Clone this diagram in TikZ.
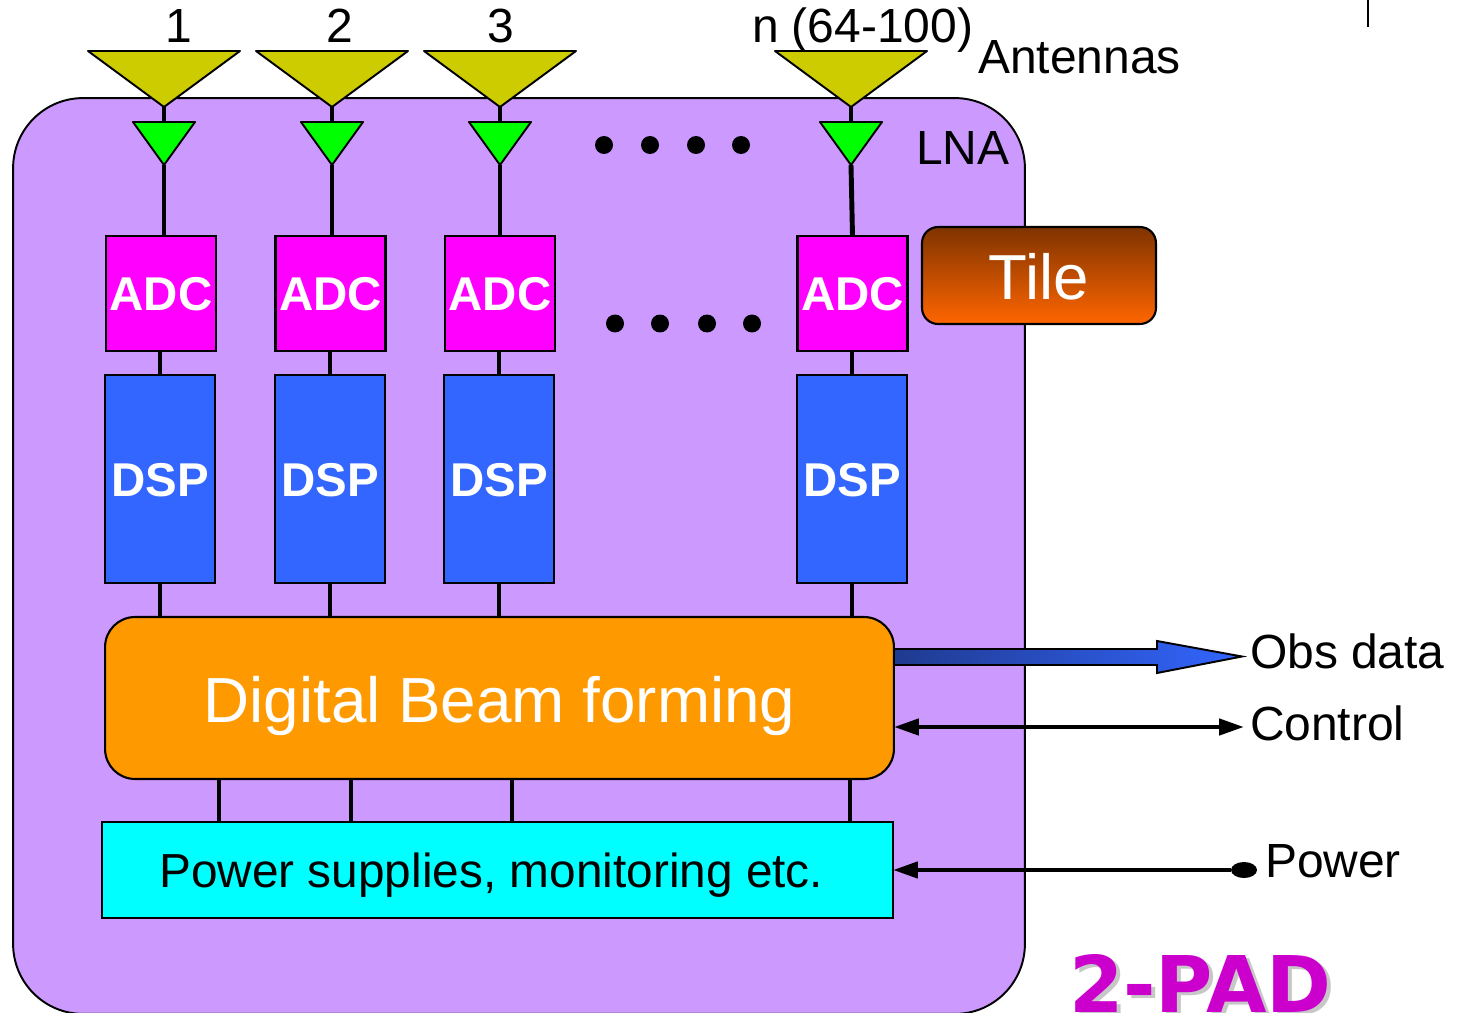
\documentclass[tikz,border=0pt]{standalone}
\usepackage{fontspec}
\setmainfont{Liberation Sans}
\newfontfamily\padfont{DejaVu Sans}
\usetikzlibrary{arrows.meta}
\usetikzlibrary{shapes.geometric}
\definecolor{panelcol}{HTML}{CC99FF}
\definecolor{antcol}{HTML}{CCCC00}
\definecolor{lnacol}{HTML}{00FF00}
\definecolor{adccol}{HTML}{FF00FF}
\definecolor{dspcol}{HTML}{3366FF}
\definecolor{beamcol}{HTML}{FF9900}
\definecolor{powercol}{HTML}{00FFFF}
\definecolor{tiletop}{HTML}{7F3300}
\definecolor{tilebot}{HTML}{FF6600}
\definecolor{obsleft}{HTML}{1F3A8F}
\definecolor{padcol}{HTML}{CC00CC}
\tikzstyle{every node}=[outer sep=0pt,inner sep=0pt]
\tikzstyle{label}=[font=\fontsize{27.3}{30}\selectfont,anchor=base west]
\tikzstyle{chip}=[draw,line width=1.2pt,minimum width=2.2cm,text=white,text depth=0pt,text height=19.5pt,font=\fontsize{27}{30}\selectfont\bfseries]
\tikzstyle{adc}=[chip,fill=adccol,minimum height=2.3cm]
\tikzstyle{dsp}=[chip,fill=dspcol,minimum height=4.16cm]
\tikzstyle{dot}=[circle,fill=black,minimum size=0.36cm]
\tikzstyle{wire}=[line width=2.8pt]
\tikzstyle{ant}=[draw,line width=1.1pt,fill=antcol,line join=round]
\tikzstyle{lna}=[draw,line width=1.1pt,fill=lnacol,line join=round]
\tikzstyle{bus}=[line width=2.6pt,{Triangle[length=0.5cm,width=0.32cm]}-{Triangle[length=0.5cm,width=0.32cm]}]
\begin{document}
\begin{tikzpicture}[x=0.02cm,y=-0.02cm]
  \useasboundingbox (0,0) rectangle (1457,1013);
  \draw[line width=1.1pt] (1368,0)--(1368,27);
  \node[draw,line width=1.1pt,fill=panelcol,rounded corners=1.4cm,minimum width=20.24cm,minimum height=18.32cm] (panel) at (519,556) {};
  \node[adc] (adc1) at (161,293.5) {ADC};
  \node[adc] (adc2) at (330.5,293.5) {ADC};
  \node[adc] (adc3) at (500,293.5) {ADC};
  \node[adc] (adc4) at (852.5,293.5) {ADC};
  \node[dsp] (dsp1) at (160,479) {DSP};
  \node[dsp] (dsp2) at (330,479) {DSP};
  \node[dsp] (dsp3) at (499,479) {DSP};
  \node[dsp] (dsp4) at (852,479) {DSP};
  \node[draw,line width=1.2pt,fill=beamcol,rounded corners=0.6cm,minimum width=15.78cm,minimum height=3.24cm,text=white,text depth=0pt,text height=27.8pt,font=\fontsize{36.3}{40}\selectfont] (beam) at (499.5,698) {Digital Beam forming};
  \node[draw,line width=1.2pt,fill=powercol,minimum width=15.82cm,minimum height=1.92cm,text depth=0pt,text height=19.5pt,font=\fontsize{27.2}{30}\selectfont] (power) at (497.5,870) {\hspace{-0.25cm}Power supplies, monitoring etc.};
  \node[draw,line width=1.2pt,top color=tiletop,bottom color=tilebot,rounded corners=0.32cm,minimum width=4.68cm,minimum height=1.94cm,text=white,text depth=0pt,text height=27.5pt,font=\fontsize{36.2}{40}\selectfont] (tile) at (1039,275.5) {Tile};
  \foreach \i/\x in {1/164,2/332,3/500,4/851}{
    \coordinate (ant\i) at (\x,107);
    \coordinate (lnatop\i) at (\x,122);
    \coordinate (lna\i) at (\x,165);
    \draw[wire] (ant\i)--(lnatop\i);
    \draw[ant] (\x-76,51)--(ant\i)--(\x+76,51)--cycle;
    \draw[lna] (\x-31,122)--(lna\i)--(\x+31,122)--cycle;
  }
  \draw[wire] (lna1)--(lna1|-adc1.north);
  \draw[wire] (lna2)--(lna2|-adc2.north);
  \draw[wire] (lna3)--(lna3|-adc3.north);
  \draw[wire] (lna4)--(adc4.north);
  \foreach \i in {1,2,3,4}{
    \draw[wire] (dsp\i.north)--(dsp\i.north|-adc\i.south);
    \draw[wire] (dsp\i.south)--(dsp\i.south|-beam.north);
  }
  \foreach \i/\x in {1/219,2/351,3/512,4/850}{
    \coordinate (tap\i) at (\x,779);
    \draw[wire] (tap\i)--(tap\i|-power.north);
  }
  \foreach \i/\x in {1/604,2/650,3/696,4/741}
    \node[dot] (dota\i) at (\x,145) {};
  \foreach \i/\x in {1/615,2/660,3/707,4/752}
    \node[dot] (dotb\i) at (\x,323.5) {};
  \coordinate (obsfrom) at (894,656.5);
  \draw[line width=1.1pt,left color=obsleft,right color=dspcol,line join=miter] (obsfrom)--++(0,-7.5)--++(263,0)--++(0,-8)--++(85,15.5)--++(-85,16.5)--++(0,-8)--++(-263,0)--cycle;
  \coordinate (ctrlfrom) at (beam.east|-0,727);
  \coordinate (ctrlto) at (1244,727);
  \draw[bus] (ctrlfrom)--(ctrlto);
  \node[ellipse,fill=black,minimum width=0.52cm,minimum height=0.32cm] (plug) at (1244,870) {};
  \draw[line width=2.6pt,-{Triangle[length=0.5cm,width=0.32cm]}] (plug)--(power.east);
  \node[label] (no1) at (165,43) {1};
  \node[label] (no2) at (326,43) {2};
  \node[label] (no3) at (487,43) {3};
  \node[label] (non) at (752,43) {n (64-100)};
  \node[label] (antennas) at (978,73.5) {Antennas};
  \node[label] (lnatext) at (916,165) {LNA};
  \node[label] (obs) at (1250,668) {Obs data};
  \node[label] (control) at (1250,740) {Control};
  \node[label] (powertext) at (1265,877) {Power};
  \node[anchor=base west,text=black!22,font=\fontsize{44.5}{48}\padfont\bfseries] (padshadow) at (1073,1015) {2-PAD};
  \node[anchor=base west,text=padcol,font=\fontsize{44.5}{48}\padfont\bfseries] (pad) at (1069,1012.5) {2-PAD};
\end{tikzpicture}
\end{document}
